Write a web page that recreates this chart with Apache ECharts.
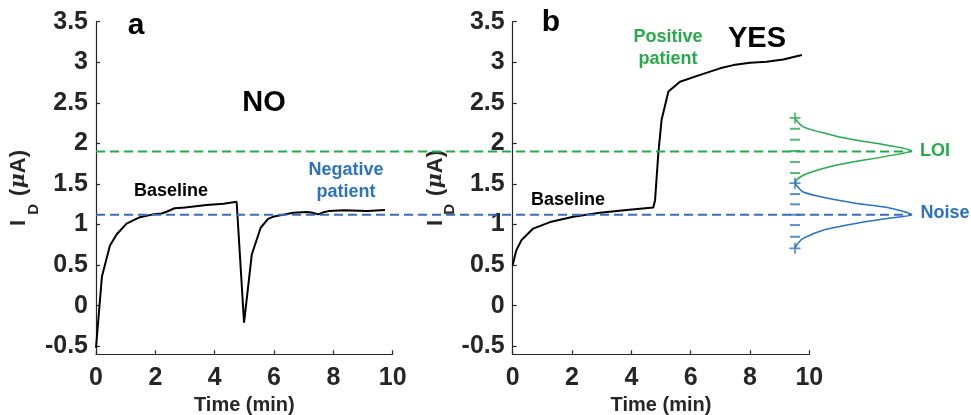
<!DOCTYPE html>
<html>
<head>
<meta charset="utf-8">
<script src="https://cdn.jsdelivr.net/npm/echarts@6/dist/echarts.min.js"></script>
<style>
  html, body { margin: 0; padding: 0; background: #fff; }
</style>
</head>
<body>
<div id="chart" style="width:971px;height:415px"></div>
<script>
// panel a: negative patient
const timeA = [0, 0.2, 0.47, 0.7, 1.03, 1.48, 1.93, 2.21, 2.4, 2.65, 3.0, 3.73, 4.3, 4.74,
  4.99, 5.25, 5.55, 5.8, 6.0, 6.65, 7.1, 7.3, 7.49, 7.7, 7.84, 8.35, 9.14, 9.74];
const currentA = [-0.52, 0.36, 0.74, 0.88, 1.01, 1.09, 1.125, 1.135, 1.16, 1.2, 1.21, 1.24, 1.255, 1.28,
  -0.21, 0.63, 0.96, 1.07, 1.1, 1.145, 1.155, 1.145, 1.125, 1.155, 1.165, 1.175, 1.165, 1.18];

// panel b: positive patient
const timeB = [0, 0.12, 0.3, 0.69, 1.26, 2.04, 2.94, 3.84, 4.74, 4.8, 4.91, 5.02, 5.25,
  5.64, 6.32, 6.99, 7.44, 8.0, 8.56, 9.12, 9.75];
const currentB = [0.5, 0.68, 0.81, 0.95, 1.03, 1.095, 1.145, 1.18, 1.21, 1.3, 1.88, 2.29, 2.64,
  2.76, 2.845, 2.925, 2.965, 2.995, 3.005, 3.035, 3.09];

// thresholds
const loiLevel = 1.9;
const noiseLevel = 1.12;

// distribution sketches (current, relative density)
const loiCurveI = [2.31, 2.27, 2.2, 2.13, 2.08, 2.04, 1.98, 1.91, 1.84, 1.78, 1.74, 1.69, 1.62, 1.56, 1.51];
const loiCurveD = [0, 0.02, 0.075, 0.24, 0.38, 0.53, 0.78, 1, 0.78, 0.53, 0.38, 0.24, 0.09, 0.02, 0];
const noiseCurveI = [1.51, 1.47, 1.4, 1.335, 1.26, 1.21, 1.12, 1.075, 1.015, 0.93, 0.83, 0.76, 0.71];
const noiseCurveD = [0, 0.02, 0.07, 0.24, 0.53, 0.79, 1, 0.79, 0.53, 0.24, 0.07, 0.02, 0];
const loiTicks = [2.18, 2.045, 1.906, 1.77, 1.634];
const noiseTicks = [1.375, 1.249, 1.12, 0.993, 0.849];
const loiEnds = [2.313];
const noiseEnds = [1.51, 0.706];

const yTicks = [-0.5, 0, 0.5, 1, 1.5, 2, 2.5, 3, 3.5];

const GREEN = "#25ab4b";
const BLUE_LINE = "#3c6cb9";
const BLUE = "#2b72c0";
const INK = "#262626";
const FONT = "Liberation Sans";
const PLUS = "path://M4.2,0H5.8V4.2H10V5.8H5.8V10H4.2V5.8H0V4.2H4.2Z";

const zip = (a, b) => a.map((v, i) => [v, b[i]]);

const gridTop = 21.7, gridH = 332.6;

function timeAxis(idx) {
  return {
    gridIndex: idx, type: "value", min: 0, max: 10, interval: 2,
    name: "Time (min)", nameLocation: "middle", nameGap: 41,
    nameTextStyle: { fontFamily: FONT, fontWeight: "bold", fontSize: 20, color: INK },
    axisLine: { show: true, onZero: false, lineStyle: { color: INK, width: 1.2 } },
    axisTick: { show: true, inside: true, length: 4, lineStyle: { color: INK, width: 1.2 } },
    axisLabel: { fontFamily: FONT, fontWeight: "bold", fontSize: 25, color: INK, margin: 11 },
    splitLine: { show: false }
  };
}
function currentAxis(idx) {
  return {
    gridIndex: idx, type: "value", min: -0.6, max: 3.5,
    name: "I{d|D} ({mu|μ}A)", nameLocation: "middle", nameGap: 58, nameRotate: 90,
    nameTextStyle: {
      fontFamily: FONT, fontWeight: "bold", fontSize: 22, color: INK, lineHeight: 26,
      rich: {
        d: { fontFamily: FONT, fontWeight: "bold", fontSize: 15, color: INK, lineHeight: 26, verticalAlign: "bottom", padding: [0, 2, -9, 5] },
        mu: { fontFamily: "DejaVu Serif", fontStyle: "italic", fontWeight: "bold", fontSize: 21, color: INK, lineHeight: 26 }
      }
    },
    axisLine: { show: true, onZero: false, lineStyle: { color: INK, width: 1.2 } },
    axisTick: { show: true, inside: true, length: 4, customValues: yTicks, lineStyle: { color: INK, width: 1.2 } },
    axisLabel: { fontFamily: FONT, fontWeight: "bold", fontSize: 25, color: INK, margin: 8, customValues: yTicks },
    splitLine: { show: false }
  };
}
function hiddenAxis(idx, min, max) {
  return { gridIndex: idx, type: "value", min: min, max: max, show: false, splitLine: { show: false } };
}

function label(text, x, y, color, size) {
  return {
    type: "text", x: x, y: y,
    style: {
      text: text, fill: color, font: "bold " + size + "px '" + FONT + "'",
      textAlign: "center", textVerticalAlign: "middle", lineHeight: size * 1.2
    }
  };
}

const option = {
  backgroundColor: "#fff",
  animation: false,
  grid: [
    { left: 96, top: gridTop, width: 296.7, height: gridH, outerBoundsMode: "none" },
    { left: 512.7, top: gridTop, width: 296.6, height: gridH, outerBoundsMode: "none" },
    { left: 795, top: gridTop, width: 116.7, height: gridH, outerBoundsMode: "none" },
    { left: 96, top: gridTop, width: 816, height: gridH, outerBoundsMode: "none" }
  ],
  xAxis: [timeAxis(0), timeAxis(1), hiddenAxis(2, 0, 1), hiddenAxis(3, 0, 1)],
  yAxis: [currentAxis(0), currentAxis(1), hiddenAxis(2, -0.6, 3.5), hiddenAxis(3, -0.6, 3.5)],
  series: [
    {
      type: "line", xAxisIndex: 0, yAxisIndex: 0, data: zip(timeA, currentA),
      showSymbol: false, lineStyle: { color: "#000", width: 2 }, z: 3
    },
    {
      type: "line", xAxisIndex: 1, yAxisIndex: 1, data: zip(timeB, currentB),
      showSymbol: false, lineStyle: { color: "#000", width: 2 }, z: 3
    },
    {
      type: "line", xAxisIndex: 3, yAxisIndex: 3, data: [[0, loiLevel], [1, loiLevel]],
      showSymbol: false, lineStyle: { color: GREEN, width: 2.2, type: [9, 5] }, z: 4
    },
    {
      type: "line", xAxisIndex: 3, yAxisIndex: 3, data: [[0, noiseLevel], [1, noiseLevel]],
      showSymbol: false, lineStyle: { color: BLUE_LINE, width: 2.2, type: [9, 5] }, z: 4
    },
    {
      type: "line", xAxisIndex: 2, yAxisIndex: 2, data: zip(loiCurveD, loiCurveI),
      showSymbol: false, smooth: 0.25, lineStyle: { color: GREEN, width: 1.5 }, z: 3
    },
    {
      type: "line", xAxisIndex: 2, yAxisIndex: 2, data: zip(noiseCurveD, noiseCurveI),
      showSymbol: false, smooth: 0.25, lineStyle: { color: BLUE, width: 1.5 }, z: 3
    },
    {
      type: "scatter", xAxisIndex: 2, yAxisIndex: 2, data: loiTicks.map(v => [0, v]),
      symbol: "rect", symbolSize: [10, 2], itemStyle: { color: GREEN }, z: 3
    },
    {
      type: "scatter", xAxisIndex: 2, yAxisIndex: 2, data: noiseTicks.map(v => [0, v]),
      symbol: "rect", symbolSize: [10, 2], itemStyle: { color: BLUE }, z: 3
    },
    {
      type: "scatter", xAxisIndex: 2, yAxisIndex: 2, data: loiEnds.map(v => [0, v]),
      symbol: PLUS, symbolSize: 11, itemStyle: { color: GREEN }, z: 5
    },
    {
      type: "scatter", xAxisIndex: 2, yAxisIndex: 2, data: noiseEnds.map(v => [0, v]),
      symbol: PLUS, symbolSize: 11, itemStyle: { color: BLUE }, z: 5
    }
  ],
  graphic: [
    label("a", 136, 26, "#000", 30),
    label("b", 551, 23, "#000", 30),
    label("NO", 264, 103, "#000", 29),
    label("YES", 757, 39, "#000", 29),
    label("Baseline", 171, 191, "#000", 18),
    label("Baseline", 568, 200, "#000", 18),
    label("Negative\npatient", 346, 181, BLUE, 18),
    label("Positive\npatient", 668, 48, GREEN, 18),
    label("LOI", 935, 151, GREEN, 18),
    label("Noise", 945, 213, BLUE, 18)
  ]
};

const myChart = echarts.init(document.getElementById("chart"));
myChart.setOption(option);
window.addEventListener("resize", function () {
  myChart.resize();
});
</script>
</body>
</html>
